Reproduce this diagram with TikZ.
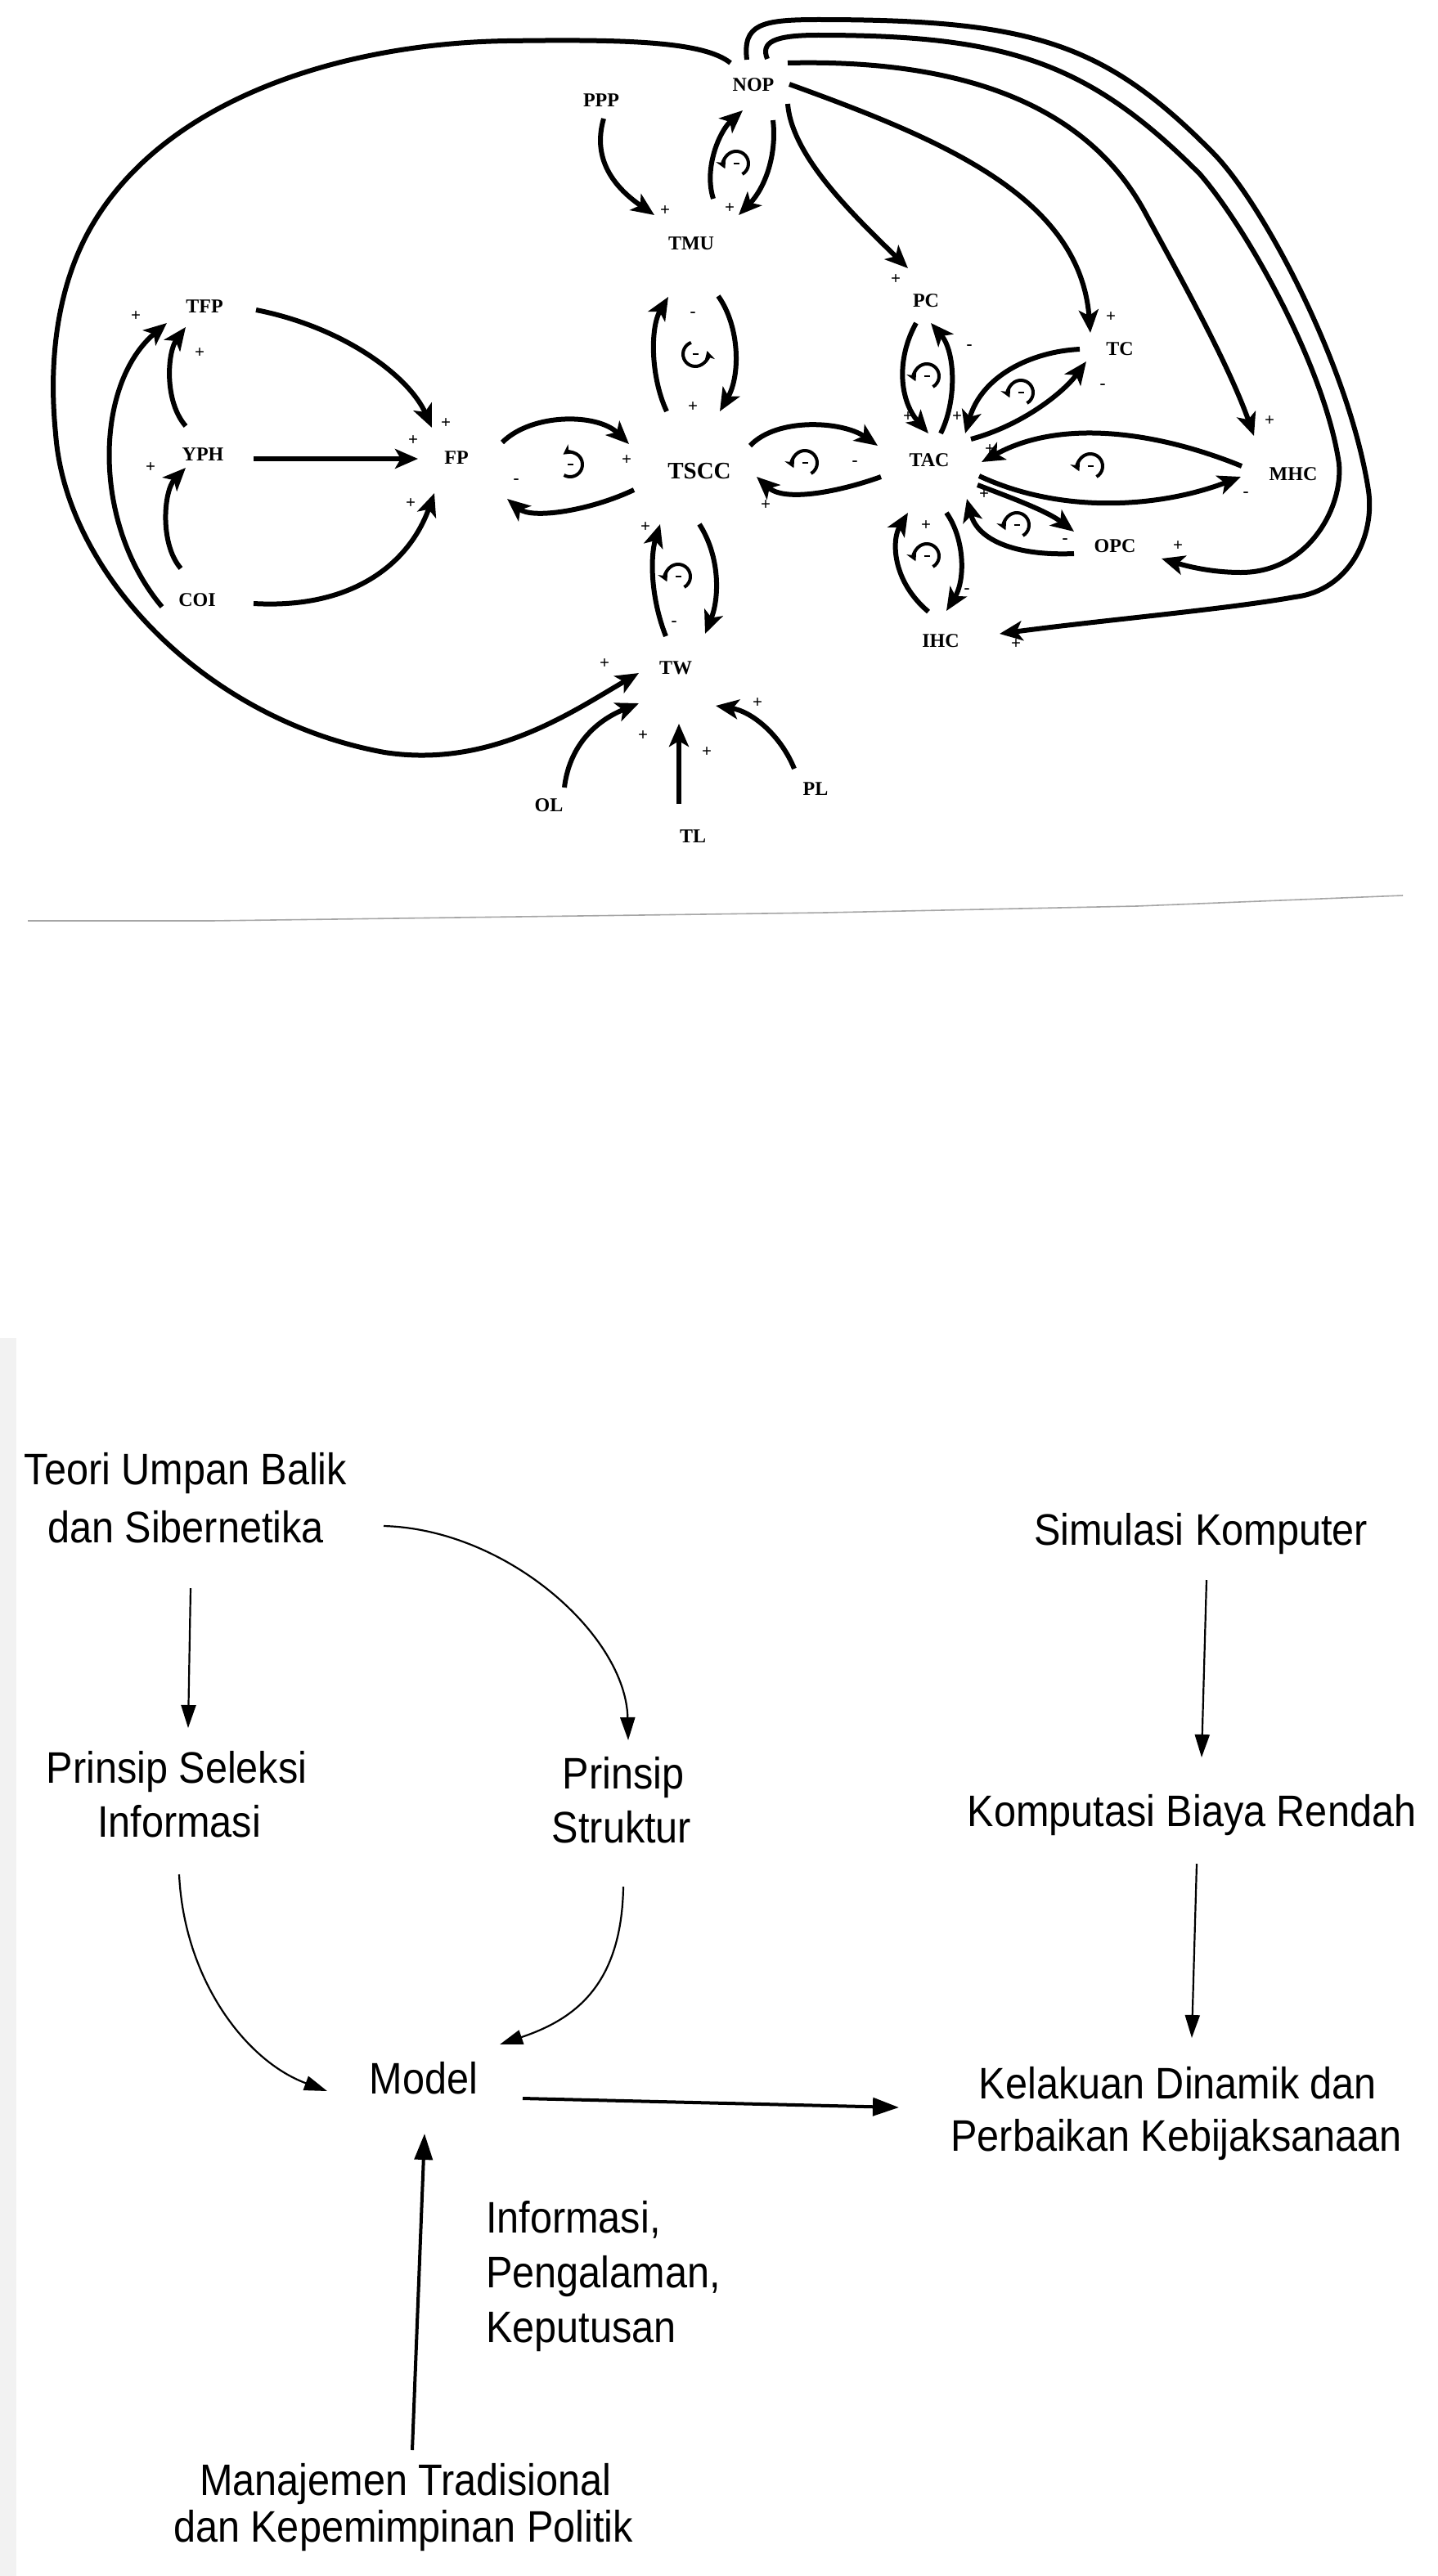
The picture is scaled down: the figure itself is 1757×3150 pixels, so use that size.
\documentclass[tikz,border=0pt]{standalone}
\usepackage{fontspec}
\setmainfont{Liberation Serif}
\newfontfamily\narrowf[FakeStretch=0.9]{Liberation Sans}
\usetikzlibrary{arrows.meta,calc}
\tikzset{
 lab/.style={font=\bfseries\fontsize{24}{24}\selectfont, inner sep=0pt},
 bigl/.style={font=\bfseries\fontsize{29}{29}\selectfont, inner sep=0pt},
 sgn/.style={font=\bfseries\fontsize{21}{21}\selectfont, inner sep=0pt},
 arr/.style={line width=6pt, -{Stealth[length=28pt,width=24pt,inset=7pt]}},
 lp/.style={line width=4pt, -{Stealth[length=12pt,width=13pt]}},
 txt/.style={font=\narrowf\fontsize{54}{54}\selectfont, inner sep=0pt, anchor=base},
 barrow/.style={line width=2.2pt, -{Triangle[length=28pt,width=18pt]}},
 tarrow/.style={line width=4pt, -{Triangle[length=32pt,width=22pt]}},
 loopm/.pic={\draw[lp] (-60:15pt) arc[start angle=-60,end angle=205,radius=15pt];
   \draw[line width=2.5pt] (-3.5pt,0pt) -- (3.5pt,0pt);},
 loopr/.pic={\draw[lp] (110:15pt) arc[start angle=110,end angle=375,radius=15pt];
   \draw[line width=2.5pt] (-3.5pt,0pt) -- (3.5pt,0pt);},
 loopf/.pic={\draw[lp] (240:15pt) arc[start angle=240,end angle=485,radius=15pt];
   \draw[line width=2.5pt] (-3.5pt,0pt) -- (3.5pt,0pt);},
}
\begin{document}
\begin{tikzpicture}[x=1pt,y=-1pt]
\useasboundingbox (0,0) rectangle (1757,3150);
\fill[white] (0,0) rectangle (1757,3150);
\fill[gray!10] (0,1636) rectangle (20,3150);

% ---------------- top diagram: nodes
\node[lab] (NOP) at (921,104) {NOP};
\node[lab] (PPP) at (735,123) {PPP};
\node[lab] (TMU) at (845,298) {TMU};
\node[lab] (TFP) at (250,375) {TFP};
\node[lab] (YPH) at (248,556) {YPH};
\node[lab] (FP) at (558,560) {FP};
\node[lab] (COI) at (241,734) {COI};
\node[bigl] (TSCC) at (855,576) {TSCC};
\node[lab] (TW) at (826,817) {TW};
\node[lab] (OL) at (671,985) {OL};
\node[lab] (TL) at (847,1023) {TL};
\node[lab] (PL) at (997,965) {PL};
\node[lab] (PC) at (1132,368) {PC};
\node[lab] (TC) at (1369,427) {TC};
\node[lab] (TAC) at (1136,563) {TAC};
\node[lab] (MHC) at (1581,580) {MHC};
\node[lab] (OPC) at (1363,668) {OPC};
\node[lab] (IHC) at (1150,784) {IHC};

% ---------------- top diagram: connectors
\draw[arr] ($(NOP)+(-28,-27)$) .. controls (860,50) and (760,48) .. (620,50)
  .. controls (420,53) and (200,120) .. (110,280)
  .. controls (74,344) and (58,430) .. (68,530)
  .. controls (80,700) and (250,880) .. (470,920)
  .. controls (600,940) and (700,870) .. ($(TW)+(-45,6)$);
\draw[arr] ($(COI)+(-43,8)$) .. controls (112,640) and (115,470) .. ($(TFP)+(-46,20)$);
\draw[arr] ($(YPH)+(-21,-35)$) .. controls (200,490) and (205,430) .. ($(TFP)+(-23,25)$);
\draw[arr] ($(COI)+(-20,-39)$) .. controls (195,665) and (200,600) .. ($(YPH)+(-21,16)$);
\draw[arr] ($(TFP)+(63,4)$) .. controls (420,400) and (500,460) .. ($(FP)+(-30,-37)$);
\draw[arr] ($(YPH)+(62,5)$) -- ($(FP)+(-47,1)$);
\draw[arr] ($(COI)+(69,4)$) .. controls (430,745) and (500,690) .. ($(FP)+(-27,43)$);
\draw[arr] ($(FP)+(56,-19)$) .. controls (650,505) and (730,505) .. ($(TSCC)+(-86,-33)$);
\draw[arr] ($(TSCC)+(-80,23)$) .. controls (720,625) and (650,635) .. ($(FP)+(62,50)$);
\draw[arr] ($(TSCC)+(-40,-73)$) .. controls (795,460) and (795,400) .. ($(TMU)+(-28,65)$);
\draw[arr] ($(TMU)+(33,64)$) .. controls (905,400) and (905,460) .. ($(TSCC)+(25,-73)$);
\draw[arr] ($(TMU)+(27,-55)$) .. controls (860,205) and (880,160) .. ($(NOP)+(-13,31)$);
\draw[arr] ($(NOP)+(24,43)$) .. controls (950,190) and (935,230) .. ($(TMU)+(58,-35)$);
\draw[arr] ($(PPP)+(3,22)$) .. controls (725,190) and (745,225) .. ($(TMU)+(-45,-35)$);
\draw[arr] ($(NOP)+(42,23)$) .. controls (968,190) and (1040,260) .. ($(PC)+(-22,-40)$);
\draw[arr] ($(NOP)+(44,-1)$) .. controls (1150,170) and (1320,240) .. ($(TC)+(-36,-20)$);
\draw[arr] ($(NOP)+(42,-27)$) .. controls (1180,72) and (1330,130) .. (1400,260)
  .. controls (1435,325) and (1500,440) .. ($(MHC)+(-48,-47)$);
\draw[arr] ($(NOP)+(-8,-31)$) .. controls (908,30) and (930,24) .. (1000,24)
  .. controls (1262,24) and (1350,52) .. (1483,187)
  .. controls (1545,250) and (1650,450) .. (1673,600)
  .. controls (1681,655) and (1650,722) .. (1583,730)
  .. controls (1500,745) and (1350,758) .. ($(IHC)+(72,-9)$);
\draw[arr] ($(NOP)+(17,-32)$) .. controls (930,52) and (945,43) .. (1000,43)
  .. controls (1230,43) and (1330,75) .. (1467,213)
  .. controls (1525,280) and (1620,450) .. (1637,567)
  .. controls (1642,620) and (1600,700) .. (1517,700)
  .. controls (1480,700) and (1450,692) .. ($(OPC)+(57,15)$);
\draw[arr] ($(PC)+(-12,27)$) .. controls (1095,440) and (1100,490) .. ($(TAC)+(-1,-33)$);
\draw[arr] ($(TAC)+(14,-33)$) .. controls (1170,490) and (1168,430) .. ($(PC)+(6,27)$);
\draw[arr] ($(TC)+(-49,0)$) .. controls (1260,430) and (1200,460) .. ($(TAC)+(44,-33)$);
\draw[arr] ($(TAC)+(51,-26)$) .. controls (1250,520) and (1300,480) .. ($(TC)+(-41,15)$);
\draw[arr] ($(MHC)+(-63,-10)$) .. controls (1420,530) and (1300,510) .. ($(TAC)+(64,2)$);
\draw[arr] ($(TAC)+(61,19)$) .. controls (1300,630) and (1420,620) .. ($(MHC)+(-64,3)$);
\draw[arr] ($(TAC)+(59,30)$) .. controls (1240,610) and (1280,625) .. ($(OPC)+(-50,-18)$);
\draw[arr] ($(OPC)+(-50,9)$) .. controls (1240,680) and (1195,660) .. ($(TAC)+(46,47)$);
\draw[arr] ($(IHC)+(-15,-36)$) .. controls (1090,710) and (1090,660) .. ($(TAC)+(-26,64)$);
\draw[arr] ($(TAC)+(21,64)$) .. controls (1180,660) and (1180,710) .. ($(IHC)+(7,-37)$);
\draw[arr] ($(TSCC)+(62,-31)$) .. controls (950,510) and (1030,515) .. ($(TAC)+(-63,-18)$);
\draw[arr] ($(TAC)+(-59,20)$) .. controls (1030,600) and (960,615) .. ($(TSCC)+(70,7)$);
\draw[arr] ($(TW)+(-12,-39)$) .. controls (795,730) and (795,680) .. ($(TSCC)+(-48,65)$);
\draw[arr] ($(TSCC)+(0,65)$) .. controls (880,680) and (880,730) .. ($(TW)+(36,-42)$);
\draw[arr] ($(OL)+(19,-22)$) .. controls (695,920) and (720,885) .. ($(TW)+(-45,43)$);
\draw[arr] ($(TL)+(-17,-40)$) -- ($(TW)+(4,68)$);
\draw[arr] ($(PL)+(-26,-25)$) .. controls (955,900) and (920,870) .. ($(TW)+(49,46)$);

% ---------------- loop symbols
\pic at (900,200) {loopm};
\pic at (850,433) {loopr};
\pic at (697,568) {loopf};
\pic at (984,566) {loopm};
\pic at (829,705) {loopm};
\pic at (1133,460) {loopm};
\pic at (1248,480) {loopm};
\pic at (1333,570) {loopm};
\pic at (1243,642) {loopm};
\pic at (1133,680) {loopm};

% ---------------- signs
\node[sgn] (s1) at (166,387) {+};
\node[sgn] (s2) at (244,432) {+};
\node[sgn] (s3) at (184,572) {+};
\node[sgn] (s4) at (545,518) {+};
\node[sgn] (s5) at (505,539) {+};
\node[sgn] (s6) at (502,616) {+};
\node[sgn] (s7) at (766,563) {+};
\node[sgn] (s8) at (631,589) {-};
\node[sgn] (s9) at (847,385) {-};
\node[sgn] (s10) at (847,498) {+};
\node[sgn] (s11) at (892,255) {+};
\node[sgn] (s12) at (813,258) {+};
\node[sgn] (s13) at (1095,342) {+};
\node[sgn] (s14) at (1358,388) {+};
\node[sgn] (s15) at (1552,515) {+};
\node[sgn] (s16) at (1110,510) {+};
\node[sgn] (s17) at (1170,510) {+};
\node[sgn] (s18) at (1185,425) {-};
\node[sgn] (s19) at (1348,473) {-};
\node[sgn] (s20) at (1210,550) {+};
\node[sgn] (s21) at (1523,605) {-};
\node[sgn] (s22) at (1203,605) {+};
\node[sgn] (s23) at (1302,662) {-};
\node[sgn] (s24) at (1132,643) {+};
\node[sgn] (s25) at (1182,723) {-};
\node[sgn] (s26) at (1045,567) {-};
\node[sgn] (s27) at (936,618) {+};
\node[sgn] (s28) at (789,645) {+};
\node[sgn] (s29) at (824,763) {-};
\node[sgn] (s30) at (739,812) {+};
\node[sgn] (s31) at (786,900) {+};
\node[sgn] (s32) at (864,920) {+};
\node[sgn] (s33) at (926,860) {+};
\node[sgn] (s34) at (1242,788) {+};
\node[sgn] (s35) at (1440,668) {+};

% ---------------- separator
\draw[gray!70, line width=1.6pt] (34,1126) -- (258,1126) -- (1009,1116) -- (1390,1108) -- (1715,1095);

% ---------------- bottom diagram
\node[txt] (t1) at (227,1815) {Teori Umpan Balik};
\node[txt] (t2) at (227,1886) {dan Sibernetika};
\node[txt] (sk) at (1468,1889) {Simulasi Komputer};
\node[txt] (ps1) at (216,2180) {Prinsip Seleksi};
\node[txt] (ps2) at (219,2246) {Informasi};
\node[txt] (pst1) at (762,2187) {Prinsip};
\node[txt] (pst2) at (760,2253) {Struktur};
\node[txt] (kb) at (1457,2233) {Komputasi Biaya Rendah};
\node[txt] (model) at (518,2560) {Model};
\node[txt] (kd1) at (1440,2566) {Kelakuan Dinamik dan};
\node[txt] (kd2) at (1438,2630) {Perbaikan Kebijaksanaan};
\node[txt, anchor=base west] (inf1) at (594,2730) {Informasi,};
\node[txt, anchor=base west] (inf2) at (594,2797) {Pengalaman,};
\node[txt, anchor=base west] (inf3) at (594,2864) {Keputusan};
\node[txt] (mt1) at (496,3051) {Manajemen Tradisional};
\node[txt] (mt2) at (493,3108) {dan Kepemimpinan Politik};

\draw[barrow] ($(t2.base)+(6,56)$) -- ($(ps1.base)+(14,-67)$);
\draw[barrow] ($(t2.base)+(242,-20)$) .. controls (620,1870) and (765,2000) .. ($(pst1.base)+(6,-59)$);
\draw[barrow] ($(sk.base)+(7,43)$) -- ($(kb.base)+(12,-84)$);
\draw[barrow] ($(kb.base)+(6,46)$) -- ($(kd1.base)+(17,-74)$);
\draw[barrow] ($(ps2.base)+(0,46)$) .. controls (225,2420) and (300,2520) .. ($(model.base)+(-118,-3)$);
\draw[barrow] ($(pst2.base)+(2,54)$) .. controls (760,2430) and (700,2470) .. ($(model.base)+(93,-60)$);
\draw[tarrow] ($(model.base)+(121,6)$) -- ($(kd1.base)+(-341,11)$);
\draw[tarrow] ($(mt1.base)+(8,-55)$) -- ($(model.base)+(1,49)$);
\end{tikzpicture}
\end{document}
